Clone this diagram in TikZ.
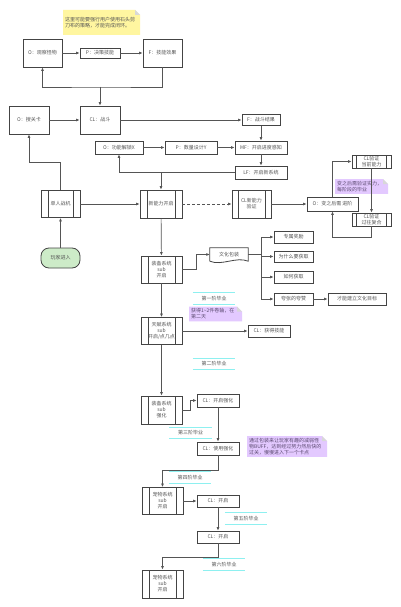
\documentclass[tikz,border=0pt]{standalone}
\usepackage{fontspec}
\setmainfont{Noto Sans CJK SC}
\usetikzlibrary{arrows.meta}
\definecolor{ln}{HTML}{555555}
\definecolor{bc}{HTML}{444444}
\definecolor{tx}{HTML}{555555}
\definecolor{yel}{HTML}{FFF6A0}
\definecolor{fold}{HTML}{D8D8D8}
\definecolor{pur}{HTML}{E3C9FF}
\definecolor{purt}{HTML}{5B4A70}
\definecolor{grn}{HTML}{CDEBC8}
\definecolor{cyn}{HTML}{8EF0F0}
\newcommand\gradlabel[4]{\node[gl] (#1) at (#2,#3) {#4};
  \draw[cy] (#1.north west) -- (#1.north east) (#1.south west) -- (#1.south east);}
\begin{document}
\begin{tikzpicture}[x=1pt,y=-1pt,font=\fontsize{5}{6}\selectfont,
  box/.style={draw=bc,fill=white,line width=0.8pt,inner sep=0pt,align=center,text=tx},
  sz/.style 2 args={minimum width=#1pt,minimum height=#2pt},
  pp/.style={box,path picture={\draw[bc,line width=0.6pt]
     ([xshift=#1]path picture bounding box.north west) -- ([xshift=#1]path picture bounding box.south west)
     ([xshift=-#1]path picture bounding box.north east) -- ([xshift=-#1]path picture bounding box.south east);}},
  note/.style 2 args={inner sep=2pt,align=left,path picture={
     \fill[#1] (path picture bounding box.north west) -- ([xshift=-5pt]path picture bounding box.north east)
       -- ([yshift=-5pt]path picture bounding box.north east) -- (path picture bounding box.south east)
       -- (path picture bounding box.south west) -- cycle;
     \fill[#2] ([xshift=-5pt]path picture bounding box.north east) -- ([yshift=-5pt]path picture bounding box.north east)
       -- ([xshift=-5pt,yshift=-5pt]path picture bounding box.north east) -- cycle;}},
  arr/.style={draw=ln,line width=0.7pt,-{Latex[length=3.5pt,width=3pt]}},
  lin/.style={draw=ln,line width=0.7pt},
  gl/.style={minimum width=42pt,minimum height=11pt,inner sep=0pt,text=tx},
  cy/.style={draw=cyn,line width=1.2pt}]
\fill[white] (0,0) rectangle (400,607);
\useasboundingbox (0,0) rectangle (400,607);

% notes
\node[note={yel}{fold},text width=73pt,minimum height=25pt,text=tx] (n1) at (101.5,22.5)
  {这里可能要强行用户使用石头剪\\刀布的策略，才能完成闭环。};
\node[note={pur}{fold},text width=49pt,minimum height=13pt,text=purt] (n2) at (361.5,186.5)
  {变之后需验证实力，\\每阶段的毕业};
\node[note={pur}{fold},text width=49pt,minimum height=14pt,text=purt] (n3) at (215.5,314)
  {获得1\textasciitilde2件卷轴，在\\第二天};
\node[note={pur}{fold},text width=76pt,minimum height=19pt,text=purt] (n4) at (287,446.5)
  {通过包装来让玩家有趣的减弱怪\\物BUFF，达到经过努力然后快的\\过关，慢慢进入下一个卡点};

% top loop
\node[box,sz={39}{28}] (obs) at (42.5,53) {O：观察怪物};
\node[box,sz={40}{10}] (dec) at (100,53) {P：决策技能};
\node[box,sz={39}{28}] (eff) at (162.5,53) {F：技能效果};
\node[box,sz={40}{28}] (sou) at (29,120) {O：搜关卡};
\node[box,sz={40}{28}] (fight) at (100,120) {CL：战斗};
\node[box,sz={38}{11}] (res) at (261,120) {F：战斗结果};
\node[box,sz={52}{13}] (mf) at (261,147.5) {MF：开启进度感知};
\node[box,sz={52}{13}] (lf) at (261,172.5) {LF：开启新系统};
\node[box,sz={48}{13}] (unl) at (119,147.5) {O：功能解锁X};
\node[box,sz={52}{13}] (num) at (191,147.5) {P：数量设计Y};

\node[pp=7pt,sz={39}{27}] (solo) at (60.5,204) {单人战机};
\node[pp=7pt,sz={42}{28}] (newab) at (161,204) {新能力开启};
\node[box,sz={39}{20},rounded corners=8pt,fill=grn] (player) at (60.5,258) {玩家进入};
\node[pp=6pt,sz={39}{28}] (clnew) at (251.5,204) {CL新能力\\验证};
\node[box,sz={51}{14}] (ovar) at (332.5,204) {O：变之后需 进阶};
\node[pp=4.5pt,sz={39}{13}] (cur) at (371.5,161.5) {CL验证\\当前能力};
\node[pp=4.5pt,sz={39}{13}] (past) at (371.5,219.5) {CL验证\\过往复合};

% main column
\node[pp=7pt,sz={41}{27}] (eq1) at (161.5,269.5) {装备系统\\sub\\开启};
\node[pp=7pt,sz={41}{27}] (tal) at (161.5,331) {天赋系统\\sub\\开启/点几点};
\node[minimum width=38pt,minimum height=13pt,inner sep=0pt,text=tx] (cul) at (229,254.5) {文化包装};
\draw[bc,line width=0.8pt] (cul.south west) -- (cul.north west) -- (cul.north east) -- (cul.south east)
  .. controls +(-12,-5) and +(12,5) .. (cul.south west);
\node[box,sz={39}{12}] (c1) at (293.5,237) {专属奖励};
\node[box,sz={39}{11}] (c2) at (293.5,256.5) {为什么要获取};
\node[box,sz={39}{12}] (c3) at (293.5,277) {如何获取};
\node[box,sz={39}{12}] (c4) at (293.5,299) {夸张的夸赞};
\node[box,sz={58}{12}] (c5) at (357,299) {才能建立文化目标};
\node[box,sz={42}{12}] (skill) at (269,331) {CL：获得技能};
\node[pp=7pt,sz={41}{28}] (eq2) at (161.5,410) {装备系统\\sub\\强化};
\node[box,sz={42}{13}] (enh1) at (218,400.5) {CL：开启强化};
\node[box,sz={42}{13}] (enh2) at (218,448.5) {CL：使用强化};
\node[pp=7pt,sz={41}{27}] (pet1) at (162.5,501) {宠物系统\\sub\\开启};
\node[box,sz={42}{12}] (op1) at (218,501) {CL：开启};
\node[box,sz={42}{12}] (op2) at (218,537) {CL：开启};
\node[pp=7pt,sz={41}{28}] (pet2) at (162.5,584) {宠物系统\\sub\\开启};

\gradlabel{g1}{214}{298.5}{第一阶毕业}
\gradlabel{g2}{214}{364}{第二阶毕业}
\gradlabel{g3}{190.5}{433}{第三阶毕业}
\gradlabel{g4}{190}{477.5}{第四阶毕业}
\gradlabel{g5}{246}{518.5}{第五阶毕业}
\gradlabel{g6}{224}{564.5}{第六阶毕业}

% connectors
\coordinate (j1) at (100,87);
\coordinate (j2) at (161,172.5);
\coordinate (j3) at (60.5,162);
\coordinate (j4) at (371.5,237);
\coordinate (j5) at (218,470);
\coordinate (j6) at (218,557);
\coordinate (sp) at (261,254.5);
\draw[arr] (obs) -- (dec);
\draw[arr] (dec) -- (eff);
\draw[arr] (eff.south) |- (j1) -| (obs.south);
\draw[arr] (j1) -- (fight.north);
\draw[arr] (sou) -- (fight);
\draw[arr] (fight.east) -- (res.west);
\draw[arr] (res) -- (mf);
\draw[arr] (mf) -- (lf);
\draw[arr] (unl) -- (num);
\draw[arr] (num) -- (mf);
\draw[arr] (lf.west) -| (unl.south);
\draw[arr] (j2) -- (newab.north);
\draw[arr] (solo.north) -- (j3) -| (sou.south);
\draw[arr] (player) -- (solo);
\draw[arr] (solo) -- (newab);
\draw[arr,dashed,dash pattern=on 3pt off 2pt] (newab) -- (clnew);
\draw[arr] (clnew) -- (ovar);
\draw[arr] (ovar.north) |- (cur.west);
\draw[arr] (cur) -- (past);
\draw[arr] (past.south) -- (j4) -| (ovar.south);
\draw[arr] (newab) -- (eq1);
\draw[arr] (eq1.east) -- ++(14,0) |- (cul.west);
\draw[arr] (cul.east) -- (sp) |- (c1.west);
\draw[arr] (cul.east) -- (sp) |- (c2.west);
\draw[arr] (cul.east) -- (sp) |- (c3.west);
\draw[arr] (cul.east) -- (sp) |- (c4.west);
\draw[arr] (c4) -- (c5);
\draw[arr] (eq1) -- (tal);
\draw[arr] (tal) -- (skill);
\draw[arr] (tal) -- (eq2);
\draw[arr] (eq2.east) -- ++(8,0) |- (enh1.west);
\draw[arr] (enh1) -- (enh2);
\draw[arr] (enh2.south) -- (j5) -| (pet1.north);
\draw[arr] (pet1) -- (op1);
\draw[arr] (op1) -- (op2);
\draw[arr] (op2.south) -- (j6) -| (pet2.north);
\end{tikzpicture}
\end{document}
